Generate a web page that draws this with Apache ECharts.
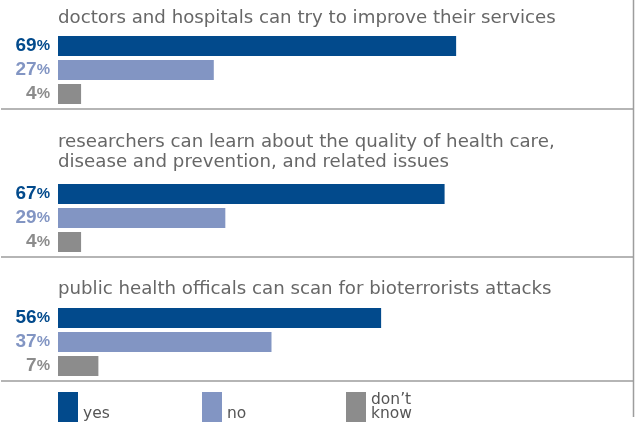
<!DOCTYPE html>
<html>
<head>
<meta charset="utf-8">
<script src="https://cdn.jsdelivr.net/npm/echarts@6/dist/echarts.min.js"></script>
<style>html,body{margin:0;padding:0;background:#fff}#c{width:635px;height:423px}</style>
</head>
<body>
<div id="c"></div>
<script>
var panelTitles = [
  'doctors and hospitals can try to improve their services',
  'researchers can learn about the quality of health care,\ndisease and prevention, and related issues',
  'public health officals can scan for bioterrorists attacks'
];
var answers = ['yes', 'no', 'don\u2019t know'];
var yesValues = [69, 67, 56];
var noValues = [27, 29, 37];
var dontKnowValues = [4, 4, 7];
var xTicks = [0, 100];

var colors = ['#024a8c', '#8295c3', '#8c8c8c'];
var valuesByAnswer = [yesValues, noValues, dontKnowValues];
var gridTops = [34, 182, 306];
var titleTops = [8, 132, 279];
var titleFont = '"DejaVu Sans", sans-serif';
var labelFont = '"Liberation Sans", Arial, sans-serif';

var grids = [], xAxes = [], yAxes = [], series = [], titles = [];
for (var p = 0; p < 3; p++) {
  grids.push({left: 58, width: 577, top: gridTops[p], height: 72});
  xAxes.push({type: 'value', gridIndex: p, min: xTicks[0], max: xTicks[1], show: false});
  yAxes.push({type: 'category', gridIndex: p, inverse: true, data: answers, show: false});
  titles.push({
    text: panelTitles[p], left: 58, top: titleTops[p], padding: 0,
    textStyle: {fontFamily: titleFont, fontSize: 18.2, fontWeight: 'normal', color: '#676767', lineHeight: 20}
  });
  for (var a = 0; a < 3; a++) {
    var d = [null, null, null];
    d[a] = valuesByAnswer[a][p];
    series.push({
      type: 'bar', name: answers[a], xAxisIndex: p, yAxisIndex: p,
      data: d, barWidth: 20, barGap: '-100%',
      itemStyle: {color: colors[a]},
      silent: true,
      label: {
        show: true, position: 'left', distance: 8,
        formatter: '{n|{c}}{p|%}',
        rich: {
          n: {fontFamily: labelFont, fontSize: 19, fontWeight: 'bold', color: colors[a]},
          p: {fontFamily: labelFont, fontSize: 15, fontWeight: 'bold', color: colors[a]}
        }
      }
    });
  }
}

var legendLefts = [58, 202, 346];
var legends = answers.map(function (name, i) {
  return {
    data: [name], left: legendLefts[i], top: 392, padding: 0, orient: 'horizontal',
    icon: 'rect', itemWidth: 20, itemHeight: 30, itemGap: 0, selectedMode: false,
    formatter: function (n) { return n === 'don\u2019t know' ? 'don\u2019t\nknow' : '\n' + n; },
    textStyle: {fontFamily: titleFont, fontSize: 15.5, color: '#555', lineHeight: 14}
  };
});

var lineStyle = {stroke: '#9d9d9d', lineWidth: 1.5};
var graphics = [109, 257, 381].map(function (y) {
  return {type: 'line', shape: {x1: 1, y1: y, x2: 633.5, y2: y}, style: lineStyle, silent: true};
});
graphics.push({type: 'line', shape: {x1: 633.5, y1: 0, x2: 633.5, y2: 417}, style: lineStyle, silent: true});

var chart = echarts.init(document.getElementById('c'), null, {renderer: 'canvas'});
chart.setOption({
  animation: false,
  backgroundColor: '#fff',
  title: titles,
  grid: grids,
  xAxis: xAxes,
  yAxis: yAxes,
  legend: legends,
  series: series,
  graphic: graphics
});
</script>
</body>
</html>
